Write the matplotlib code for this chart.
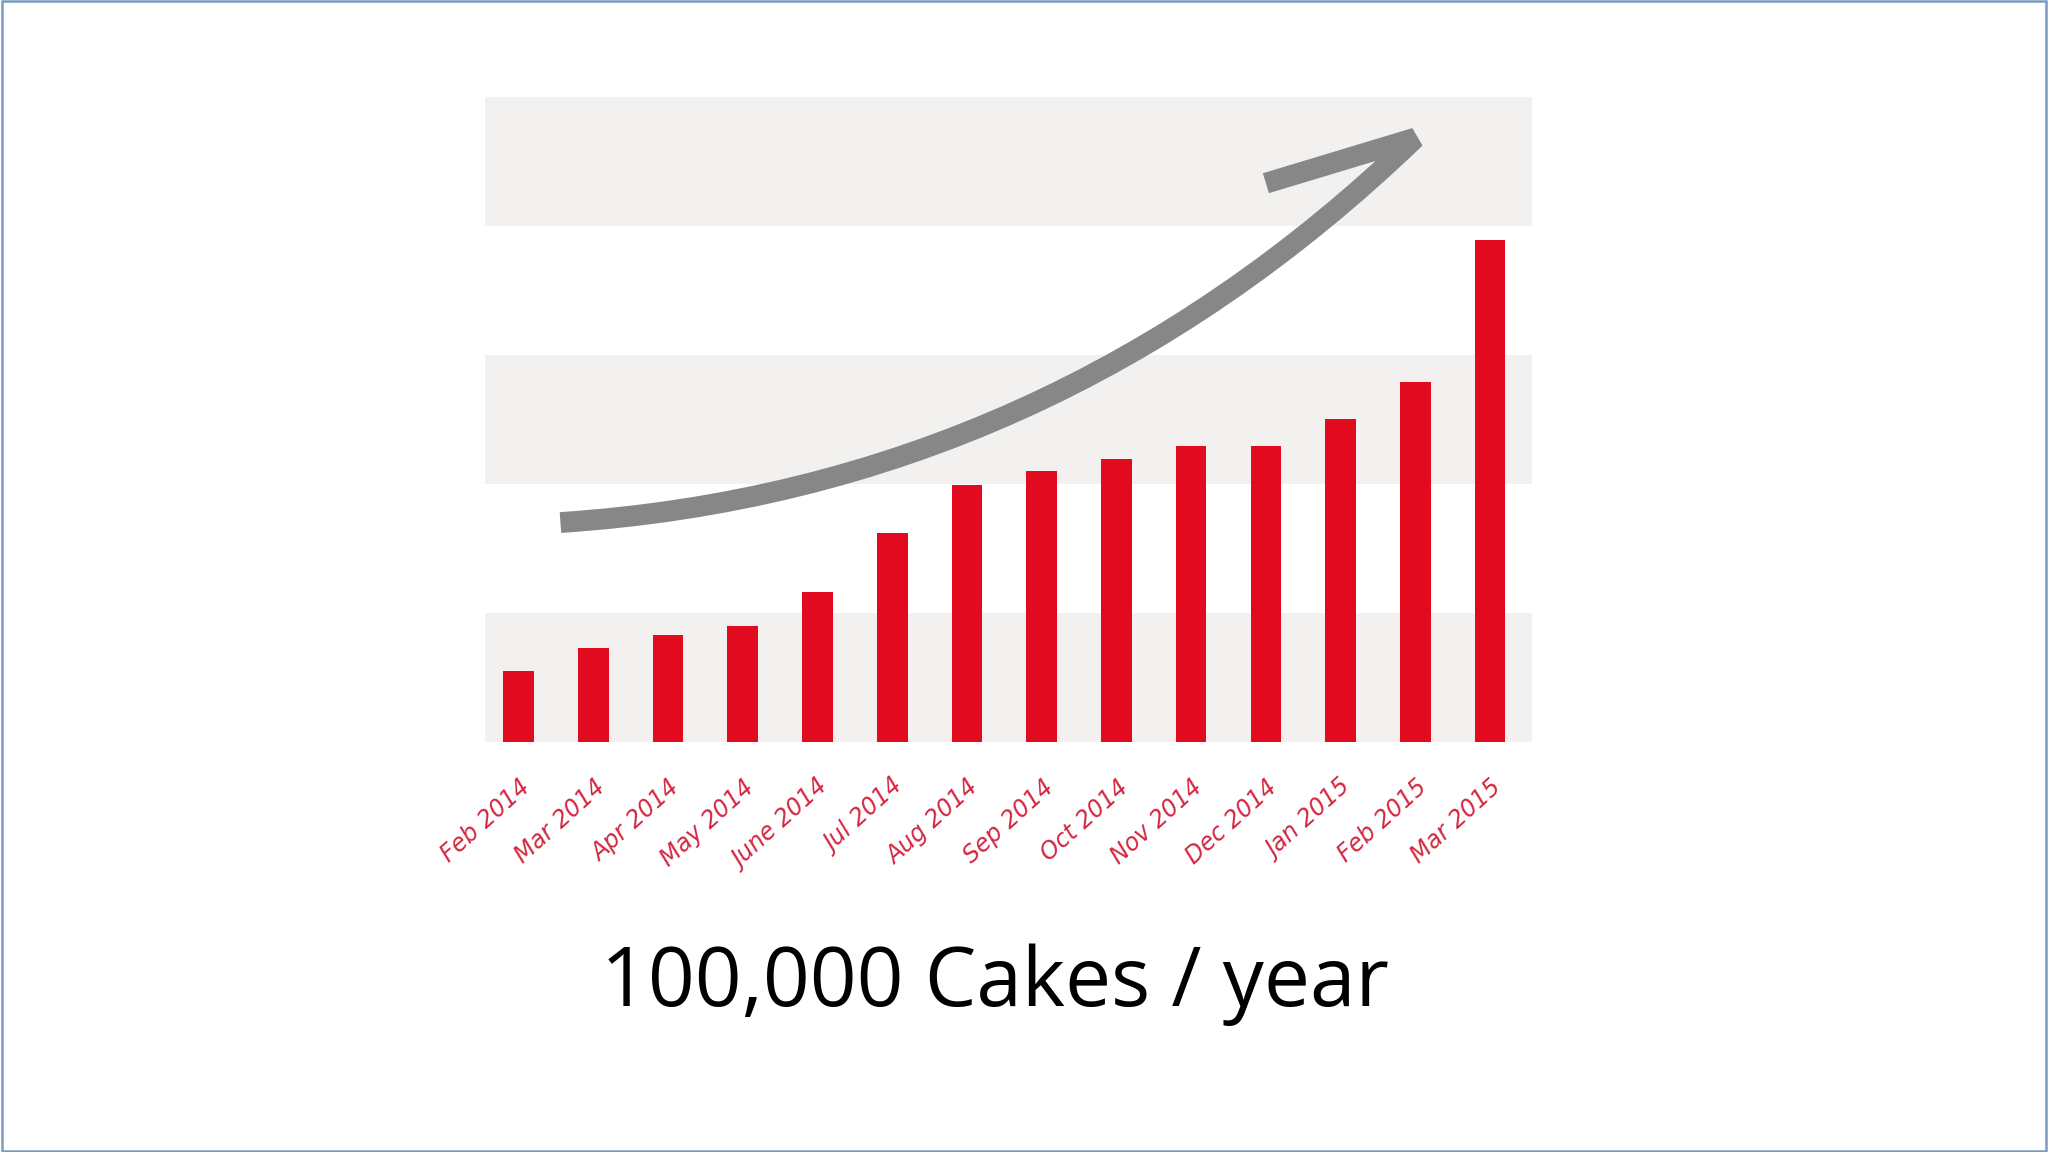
import matplotlib.pyplot as plt
from matplotlib.path import Path
from matplotlib.patches import PathPatch, Rectangle

months = ['Feb 2014', 'Mar 2014', 'Apr 2014', 'May 2014', 'June 2014', 'Jul 2014',
          'Aug 2014', 'Sep 2014', 'Oct 2014', 'Nov 2014', 'Dec 2014', 'Jan 2015',
          'Feb 2015', 'Mar 2015']
cakes = [0.55, 0.73, 0.83, 0.90, 1.16, 1.62, 1.99, 2.10, 2.19, 2.29, 2.29, 2.50, 2.79, 3.89]
title = '100,000 Cakes / year'

fig = plt.figure(figsize=(20.48, 11.52), dpi=100)
fig.patch.set_facecolor('white')
fig.patches.append(Rectangle((0.001, 0.001), 0.998, 0.998, transform=fig.transFigure,
                             fill=False, edgecolor='#7a9cc2', linewidth=1.8))

ax = fig.add_axes([0.2368, 0.356, 0.5112, 0.56])
# alternating background bands
for lo in (0, 2, 4):
    ax.axhspan(lo, lo + 1, color='#f2f1f0', zorder=0, lw=0)

x = range(len(months))
ax.bar(x, cakes, width=0.41, color='#e20a1e', zorder=2)

# growth arrow
verts = [(0.56, 1.70), (7.1, 1.95), (12.0, 4.68), (10.0, 4.33)]
codes = [Path.MOVETO, Path.CURVE3, Path.CURVE3, Path.LINETO]
ax.add_patch(PathPatch(Path(verts, codes), facecolor='none', edgecolor='#878787',
                       linewidth=15, capstyle='butt', joinstyle='bevel', zorder=3))

ax.set_xlim(-0.45, 13.56)
ax.set_ylim(0, 5)
for s in ax.spines.values():
    s.set_visible(False)
ax.set_yticks([])
ax.set_xticks(list(x))
ax.set_xticklabels(months, rotation=42, ha='right', va='top', rotation_mode='anchor',
                   color='#d42640', fontsize=17, style='italic')
ax.tick_params(axis='x', length=0, pad=24)

fig.text(0.486, 0.145, title, ha='center', va='center', fontsize=59,
         family='Open Sans', color='black')

fig.savefig('out.png', dpi=100, facecolor='white')
